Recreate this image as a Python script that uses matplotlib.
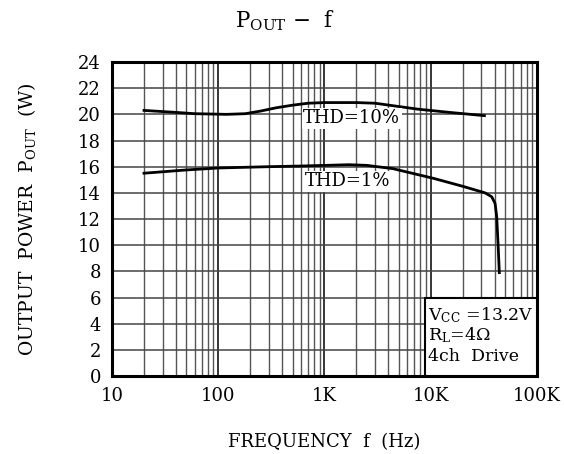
import numpy as np
import matplotlib.pyplot as plt
from matplotlib.patches import Rectangle
from matplotlib.ticker import FixedLocator, LogLocator, NullFormatter

plt.rcParams['font.family'] = 'DejaVu Serif'
plt.rcParams['mathtext.fontset'] = 'dejavuserif'

# output power vs frequency
freq_thd10 = [20, 40, 60, 120, 180, 250, 350, 500, 700, 1000, 2000, 3000, 4500, 7500, 15000, 32000]
pout_thd10 = [20.3, 20.15, 20.05, 20.0, 20.05, 20.25, 20.5, 20.7, 20.85, 20.9, 20.9, 20.85, 20.65, 20.4, 20.15, 19.9]

freq_thd1 = [20, 50, 100, 300, 600, 1700, 2500, 4400, 10700, 20000, 32400, 37500, 40300, 41800, 43300, 44200]
pout_thd1 = [15.5, 15.75, 15.9, 16.0, 16.05, 16.15, 16.1, 15.85, 15.1, 14.5, 14.0, 13.7, 13.2, 12.15, 9.6, 7.9]

xticks = [10, 100, 1000, 10000, 100000]
xlabels = ['10', '100', '1K', '10K', '100K']
yticks = list(range(0, 25, 2))

fig = plt.figure(figsize=(5.64, 4.54), dpi=100)
ax = fig.add_axes([0.1986, 0.1718, 0.7535, 0.6916])

ax.plot(freq_thd10, pout_thd10, color='black', lw=2, zorder=3)
ax.plot(freq_thd1, pout_thd1, color='black', lw=2, zorder=3)

ax.set_xscale('log')
ax.set_xlim(10, 100000)
ax.set_ylim(0, 24)
ax.xaxis.set_major_locator(FixedLocator(xticks))
ax.set_xticklabels(xlabels)
ax.xaxis.set_minor_locator(LogLocator(base=10, subs=np.arange(2, 10)))
ax.xaxis.set_minor_formatter(NullFormatter())
ax.set_yticks(yticks)

ax.grid(which='major', axis='x', color='black', lw=1.1)
ax.grid(which='minor', axis='x', color='#555555', lw=1.0)
ax.grid(which='major', axis='y', color='#444444', lw=1.1)
ax.tick_params(which='both', length=0, labelsize=13, pad=8)

for sp in ax.spines.values():
    sp.set_linewidth(2.2)

ax.text(1800, 19.7, 'THD=10%', fontsize=13, ha='center', va='center', zorder=4,
        bbox=dict(fc='white', ec='none', pad=1))
ax.text(1660, 14.9, 'THD=1%', fontsize=13, ha='center', va='center', zorder=4,
        bbox=dict(fc='white', ec='none', pad=1))

# operating conditions box in the lower right corner
ax.add_patch(Rectangle((0.736, 0.0), 0.264, 0.248, transform=ax.transAxes,
                       fc='white', ec='black', lw=1.5, zorder=5))
cond = ['V$_{\\mathrm{CC}}$ =13.2V', 'R$_{\\mathrm{L}}$=4\u03a9', '4ch  Drive']
for i, s in enumerate(cond):
    ax.text(0.744, 0.195 - i * 0.066, s, transform=ax.transAxes, fontsize=12.5,
            ha='left', va='center', zorder=6)

fig.text(0.505, 0.955, 'P$_{\\mathrm{OUT}}$ $-$  f', fontsize=15.5, ha='center', va='center')
ax.set_xlabel('FREQUENCY  f  (Hz)', fontsize=13, labelpad=20)
ax.set_ylabel('OUTPUT  POWER  P$_{\\mathrm{OUT}}$  (W)', fontsize=13.5, labelpad=16)
ax.yaxis.set_label_coords(-0.175, 0.5)

fig.savefig('out.png', dpi=100)
